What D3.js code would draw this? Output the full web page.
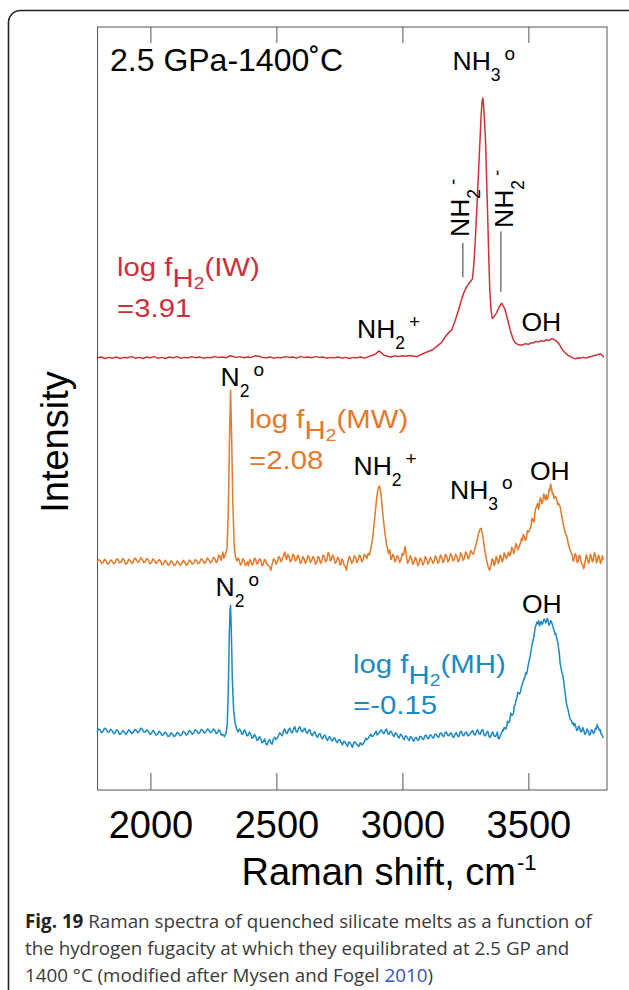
<!DOCTYPE html>
<html>
<head>
<meta charset="utf-8">
<script src="https://cdn.jsdelivr.net/npm/d3@7/dist/d3.min.js"></script>
<style>
    body { margin: 0; background: #fff; }
    svg text { font-family: "Liberation Sans", Arial, Helvetica, sans-serif; }
    svg text.caption { font-family: "Open Sans", "Noto Sans", sans-serif; }
</style>
</head>
<body>
<svg id="chart" width="629" height="990"></svg>
<script>
// x axis (Raman shift, cm-1)
var xTicks = [2000, 2500, 3000, 3500];
var xDomain = [1790, 3812];
var yDomain = [0, 100];

// one spectrum per buffer, stacked with a vertical offset
var buffers = ["IW", "MW", "MH"];
var logFH2 = ["=3.91", "=2.08", "=-0.15"];
var offsets = [56.6, 29.8, 7.6];

// [shift, intensity above own baseline]
var spectrumIW = [
    [1790, 0.05], [1805, 0.15], [1820, -0.05], [1835, 0.1], [1850, 0.0], [1865, 0.15], [1880, -0.05],
    [1895, 0.1], [1910, 0.05], [1925, 0.2], [1940, 0.0], [1955, 0.1], [1970, -0.05], [1985, 0.15],
    [2000, 0.05], [2015, 0.2], [2030, 0.0], [2045, 0.1], [2060, -0.05], [2075, 0.15], [2090, 0.05],
    [2105, 0.2], [2120, 0.0], [2135, 0.1], [2150, 0.05], [2165, 0.2], [2180, 0.05], [2195, 0.15],
    [2210, 0.0], [2225, 0.1], [2240, 0.05], [2255, 0.2], [2270, 0.1], [2285, 0.15], [2300, 0.05],
    [2315, 0.3], [2325, 0.25], [2340, 0.1], [2355, 0.2], [2370, 0.05], [2385, 0.15], [2400, 0.1],
    [2415, 0.3], [2430, 0.25], [2445, 0.1], [2460, 0.05], [2475, 0.15], [2490, 0.0], [2505, 0.1],
    [2520, 0.05], [2535, 0.2], [2550, 0.1], [2565, 0.15], [2580, 0.0], [2595, 0.2], [2610, 0.1],
    [2625, 0.15], [2640, 0.05], [2655, 0.2], [2670, 0.1], [2685, 0.15], [2700, 0.0], [2715, 0.1],
    [2730, 0.05], [2745, 0.15], [2760, 0.0], [2775, 0.1], [2790, -0.05], [2805, 0.1], [2820, 0.05],
    [2835, 0.15], [2850, 0.0], [2865, 0.2], [2880, 0.35], [2895, 0.6], [2907, 0.95], [2917, 0.7],
    [2927, 0.4], [2940, 0.25], [2955, 0.15], [2970, 0.3], [2985, 0.2], [3000, 0.3], [3015, 0.25],
    [3030, 0.35], [3045, 0.25], [3059, 0.2], [3075, 0.5], [3090, 0.7], [3105, 0.9], [3120, 1.1],
    [3135, 1.5], [3154, 2.0], [3170, 2.8], [3185, 3.4], [3196, 3.7], [3210, 5.0], [3223, 6.3],
    [3233, 7.5], [3243, 8.5], [3254, 9.3], [3264, 9.8], [3272, 10.1], [3278, 10.4], [3284, 12.5],
    [3291, 16.5], [3298, 21.5], [3305, 26.5], [3312, 31.5], [3316, 33.6], [3319, 34.1], [3322, 33.2],
    [3326, 31.0], [3330, 28.5], [3335, 22.5], [3339, 18.0], [3343, 13.0], [3347, 8.8], [3352, 6.2],
    [3357, 5.2], [3365, 5.5], [3373, 5.9], [3384, 6.7], [3394, 7.2], [3401, 6.8], [3408, 6.3],
    [3418, 5.0], [3428, 3.7], [3438, 2.6], [3448, 2.0], [3458, 1.8], [3469, 1.7], [3480, 1.8],
    [3490, 1.9], [3500, 1.8], [3510, 2.0], [3520, 2.0], [3530, 2.2], [3540, 2.1], [3550, 2.3],
    [3560, 2.2], [3570, 2.4], [3580, 2.3], [3590, 2.5], [3599, 2.5], [3609, 2.3], [3619, 2.0],
    [3628, 1.5], [3637, 1.0], [3646, 0.7], [3656, 0.4], [3667, 0.2], [3677, 0.0], [3687, -0.1],
    [3697, 0.05], [3707, 0.0], [3717, 0.1], [3729, 0.0], [3740, 0.15], [3750, 0.2], [3760, 0.35],
    [3770, 0.4], [3778, 0.5], [3785, 0.55], [3792, 0.4], [3800, 0.1]
];

var spectrumMW = [
    [1788, 0.1], [1794, 0.4], [1800, 0.3], [1806, -0.1], [1812, 0.0], [1818, 0.45], [1824, 0.25],
    [1830, -0.2], [1836, -0.1], [1842, 0.35], [1848, 0.2], [1854, -0.15], [1860, 0.0], [1866, 0.5],
    [1872, 0.35], [1878, -0.05], [1884, 0.1], [1890, 0.55], [1896, 0.3], [1902, -0.2], [1908, -0.05],
    [1914, 0.45], [1920, 0.25], [1926, -0.1], [1932, 0.1], [1938, 0.6], [1944, 0.4], [1950, 0.05],
    [1956, 0.2], [1962, 0.65], [1968, 0.45], [1974, 0.0], [1980, 0.15], [1986, 0.55], [1992, 0.35],
    [1998, -0.15], [2004, 0.0], [2010, 0.5], [2016, 0.3], [2022, -0.1], [2028, 0.05], [2034, 0.4],
    [2040, 0.2], [2046, -0.3], [2052, -0.15], [2058, 0.3], [2064, 0.1], [2070, -0.35], [2076, -0.2],
    [2082, 0.25], [2088, 0.05], [2094, -0.4], [2100, -0.25], [2106, 0.2], [2112, 0.0], [2118, -0.35],
    [2124, -0.15], [2130, 0.3], [2136, 0.1], [2142, -0.35], [2148, -0.2], [2154, 0.35], [2160, 0.15],
    [2166, -0.2], [2172, -0.05], [2178, 0.4], [2184, 0.2], [2190, -0.15], [2196, 0.05], [2202, 0.5],
    [2208, 0.3], [2214, -0.1], [2220, 0.1], [2226, 0.6], [2232, 0.35], [2238, -0.05], [2244, 0.15],
    [2250, 0.7], [2256, 0.5], [2261, 0.0], [2266, 0.2], [2271, 1.0], [2276, 0.8], [2281, 0.3],
    [2287, 1.4], [2292, 0.6], [2296, 0.9], [2304, 1.8], [2309, 6.5], [2314, 16.0], [2318, 22.6],
    [2322, 17.0], [2327, 8.0], [2332, 2.5], [2337, 0.8], [2343, 0.2], [2348, 0.6], [2352, 0.4],
    [2357, -0.3], [2362, -0.1], [2367, 0.5], [2372, 0.3], [2377, -0.4], [2381, -0.2], [2385, 0.1],
    [2389, -0.4], [2394, 0.4], [2398, 0.2], [2403, -0.3], [2408, -0.1], [2413, 0.6], [2418, 0.4],
    [2423, -0.2], [2428, 0.0], [2433, 0.5], [2438, 0.3], [2443, -0.4], [2448, -0.2], [2453, 0.4],
    [2458, 0.2], [2462, -0.2], [2466, -0.3], [2472, -0.5], [2478, -1.0], [2484, -0.1], [2489, 0.5],
    [2494, 0.3], [2499, -0.2], [2504, 0.1], [2509, 0.8], [2514, 0.6], [2518, 0.1], [2522, 0.3],
    [2528, 0.9], [2533, 1.4], [2537, 0.7], [2540, 0.4], [2545, 1.1], [2550, 0.8], [2555, 0.1],
    [2560, 0.3], [2565, 1.1], [2570, 0.9], [2575, 0.2], [2580, 0.4], [2585, 1.0], [2590, 0.7],
    [2595, -0.1], [2600, 0.1], [2605, 0.8], [2610, 0.5], [2615, -0.1], [2620, 0.2], [2625, 0.9],
    [2630, 0.7], [2635, 0.0], [2640, 0.3], [2645, 0.8], [2650, 0.5], [2655, -0.2], [2660, 0.0],
    [2665, 0.8], [2670, 0.6], [2675, -0.1], [2680, 0.2], [2685, 1.0], [2690, 0.8], [2695, 0.1],
    [2700, 0.3], [2705, 1.3], [2710, 1.0], [2714, 0.2], [2718, 0.4], [2723, 1.0], [2728, 0.7],
    [2733, -0.1], [2738, 0.1], [2743, 0.7], [2748, 0.5], [2752, -0.3], [2756, -0.2], [2760, 0.5],
    [2764, 0.3], [2768, -0.3], [2772, -0.4], [2778, -1.0], [2784, 0.2], [2789, 0.8], [2794, 0.5],
    [2799, -0.1], [2804, 0.2], [2809, 0.9], [2814, 0.7], [2819, 0.0], [2824, 0.3], [2829, 1.0],
    [2834, 0.8], [2839, 0.1], [2844, 0.4], [2849, 1.1], [2854, 0.9], [2859, 0.5], [2864, 1.2],
    [2869, 1.0], [2874, 1.7], [2882, 3.2], [2890, 5.8], [2898, 8.5], [2904, 9.8], [2909, 10.05],
    [2915, 9.0], [2922, 6.5], [2930, 4.0], [2938, 2.2], [2945, 1.2], [2950, 1.7], [2954, 0.4],
    [2958, 0.6], [2962, 1.1], [2966, 0.9], [2970, 0.1], [2974, 0.3], [2979, 0.9], [2984, 0.7],
    [2989, 0.0], [2994, 0.4], [2999, 1.2], [3004, 1.0], [3011, 2.1], [3017, 0.6], [3021, -0.1],
    [3026, 0.3], [3031, 0.9], [3036, 0.6], [3041, -0.2], [3046, 0.0], [3051, 0.7], [3056, 0.4],
    [3061, -0.4], [3066, -0.1], [3071, 0.6], [3076, 0.3], [3081, -0.3], [3086, 0.0], [3091, 0.8],
    [3096, 0.5], [3101, -0.2], [3106, 0.1], [3111, 0.7], [3116, 0.4], [3121, -0.1], [3126, 0.2],
    [3131, 0.9], [3136, 0.6], [3141, -0.1], [3146, 0.2], [3151, 1.0], [3156, 0.7], [3161, 0.0],
    [3166, 0.3], [3171, 1.1], [3176, 0.8], [3181, 0.1], [3186, 0.4], [3191, 1.2], [3196, 0.9],
    [3201, 0.2], [3206, 0.5], [3211, 1.1], [3216, 0.8], [3221, 0.1], [3226, 0.4], [3231, 1.3],
    [3236, 1.0], [3241, 0.3], [3246, 0.6], [3251, 1.4], [3256, 1.1], [3261, 0.5], [3266, 0.8],
    [3271, 1.6], [3276, 1.3], [3281, 1.1], [3286, 1.6], [3294, 2.6], [3302, 3.8], [3308, 4.4],
    [3312, 4.5], [3317, 3.9], [3323, 2.6], [3329, 1.2], [3335, 0.2], [3341, -0.6], [3346, -1.0],
    [3352, -0.3], [3356, 0.5], [3360, 0.3], [3364, -0.4], [3368, -0.1], [3372, 0.8], [3376, 0.5],
    [3380, -0.1], [3384, 0.2], [3388, 1.0], [3392, 0.7], [3396, 0.1], [3400, 0.4], [3404, 1.3],
    [3408, 1.0], [3412, 0.5], [3416, 0.8], [3422, 1.4], [3426, 0.9], [3430, 1.1], [3434, 2.0],
    [3438, 1.8], [3442, 1.2], [3446, 1.6], [3450, 2.5], [3454, 2.2], [3458, 1.7], [3462, 2.0],
    [3469, 2.6], [3473, 3.2], [3476, 2.9], [3480, 3.7], [3484, 3.4], [3488, 2.9], [3492, 3.2],
    [3496, 4.2], [3500, 4.0], [3505, 4.3], [3510, 4.7], [3514, 5.8], [3518, 5.6], [3522, 5.3],
    [3525, 6.2], [3528, 7.0], [3531, 7.2], [3537, 7.8], [3540, 7.0], [3543, 7.4], [3547, 8.5],
    [3550, 8.3], [3554, 7.7], [3557, 8.0], [3561, 9.0], [3564, 8.6], [3568, 8.2], [3571, 8.9],
    [3575, 8.3], [3578, 8.6], [3582, 9.6], [3585, 9.4], [3588, 10.3], [3592, 9.75], [3595, 9.0],
    [3598, 9.1], [3602, 8.4], [3605, 8.7], [3609, 8.6], [3612, 8.4], [3616, 7.6], [3619, 7.8],
    [3626, 7.3], [3633, 6.0], [3640, 4.8], [3647, 3.8], [3653, 3.4], [3660, 2.2], [3667, 1.5],
    [3674, 1.0], [3678, 0.2], [3682, 0.5], [3686, 1.2], [3690, 0.9], [3694, 0.0], [3698, 0.2],
    [3702, 1.0], [3706, 0.7], [3710, 0.0], [3714, -0.2], [3720, -0.8], [3726, 0.3], [3730, 1.0],
    [3734, 0.6], [3738, -0.1], [3742, 0.2], [3746, 1.1], [3750, 0.8], [3754, 0.1], [3758, 0.4],
    [3762, 1.3], [3766, 1.0], [3770, 0.0], [3774, 0.3], [3778, 1.0], [3782, 0.7], [3786, -0.1],
    [3790, 0.2], [3794, 0.9], [3797, 0.4]
];

var spectrumMH = [
    [1788, 0.0], [1794, 0.4], [1800, 0.3], [1806, -0.1], [1812, 0.1], [1818, 0.5], [1824, 0.4],
    [1830, 0.0], [1836, 0.0], [1842, 0.35], [1848, 0.2], [1854, -0.2], [1860, -0.1], [1866, 0.3],
    [1872, 0.1], [1878, -0.3], [1884, -0.2], [1890, 0.2], [1896, 0.0], [1902, -0.3], [1908, -0.1],
    [1914, 0.3], [1920, 0.1], [1926, -0.2], [1932, -0.05], [1938, 0.35], [1944, 0.2], [1950, -0.1],
    [1956, 0.1], [1962, 0.5], [1968, 0.35], [1974, 0.0], [1980, 0.0], [1986, 0.3], [1992, 0.1],
    [1998, -0.3], [2004, -0.2], [2010, 0.2], [2016, 0.0], [2022, -0.4], [2028, -0.3], [2034, 0.1],
    [2040, -0.1], [2046, -0.45], [2052, -0.35], [2058, 0.0], [2064, -0.2], [2070, -0.6], [2076, -0.5],
    [2082, -0.1], [2088, -0.3], [2094, -0.6], [2100, -0.45], [2106, -0.05], [2112, -0.2], [2118, -0.5],
    [2124, -0.35], [2130, 0.1], [2136, -0.05], [2142, -0.4], [2148, -0.25], [2154, 0.2], [2160, 0.05],
    [2166, -0.3], [2172, -0.1], [2178, 0.3], [2184, 0.15], [2190, -0.2], [2196, -0.05], [2202, 0.35],
    [2208, 0.2], [2214, -0.15], [2220, 0.0], [2226, 0.4], [2232, 0.25], [2238, -0.1], [2244, 0.05],
    [2250, 0.4], [2256, 0.2], [2261, -0.2], [2266, -0.1], [2271, 0.3], [2276, 0.1], [2281, -0.4],
    [2286, -0.3], [2294, -0.6], [2300, -0.2], [2305, 1.0], [2309, 5.5], [2313, 12.5], [2316, 16.0],
    [2318, 16.6], [2321, 13.5], [2325, 7.0], [2330, 3.0], [2336, 1.2], [2342, 0.4], [2348, 0.0],
    [2353, 0.4], [2358, 0.2], [2363, -0.3], [2368, -0.2], [2373, 0.3], [2378, 0.0], [2383, -0.5],
    [2388, -0.4], [2393, 0.0], [2398, -0.3], [2403, -0.8], [2408, -0.7], [2413, -0.3], [2418, -0.6],
    [2423, -1.1], [2428, -1.0], [2433, -0.6], [2438, -0.9], [2443, -1.4], [2448, -1.3], [2453, -0.9],
    [2458, -1.5], [2463, -1.7], [2468, -1.2], [2473, -1.0], [2478, -1.4], [2483, -1.6], [2488, -0.9],
    [2493, -0.7], [2498, -1.0], [2503, -0.8], [2508, -0.5], [2513, -0.1], [2518, -0.3], [2523, -0.5],
    [2528, 0.1], [2533, 0.4], [2538, -0.1], [2543, -0.2], [2548, 0.3], [2553, 0.5], [2558, 0.0],
    [2563, -0.1], [2568, 0.4], [2573, 0.7], [2578, 0.1], [2583, 0.0], [2588, 0.5], [2593, 0.7],
    [2598, 0.2], [2603, 0.0], [2608, 0.3], [2613, 0.5], [2618, 0.0], [2623, -0.2], [2628, 0.2],
    [2633, 0.3], [2638, -0.3], [2643, -0.5], [2648, -0.1], [2653, 0.0], [2658, -0.5], [2663, -0.7],
    [2668, -0.3], [2673, -0.2], [2678, -0.7], [2683, -0.9], [2688, -0.5], [2693, -0.4], [2698, -0.9],
    [2703, -1.1], [2708, -0.7], [2712, -0.6], [2717, -1.0], [2722, -1.2], [2727, -0.8], [2732, -0.8],
    [2737, -1.2], [2742, -1.4], [2747, -1.0], [2752, -1.0], [2757, -1.4], [2762, -1.7], [2767, -1.2],
    [2772, -1.3], [2777, -1.6], [2782, -1.9], [2787, -1.3], [2792, -1.4], [2797, -1.7], [2802, -2.0],
    [2807, -1.4], [2812, -1.3], [2817, -1.6], [2822, -1.7], [2827, -1.9], [2833, -1.4], [2840, -1.7],
    [2845, -1.5], [2850, -1.2], [2855, -0.8], [2860, -1.0], [2865, -0.8], [2870, -0.5], [2875, -0.3],
    [2880, -0.6], [2885, -0.5], [2890, -0.2], [2895, 0.1], [2900, -0.4], [2906, -0.2], [2912, 0.1],
    [2917, 0.3], [2922, -0.1], [2927, -0.2], [2932, 0.2], [2937, 0.4], [2942, -0.2], [2947, -0.3],
    [2952, 0.1], [2957, 0.0], [2962, -0.4], [2967, -0.6], [2972, -0.1], [2977, -0.2], [2982, -0.6],
    [2987, -0.8], [2992, -0.3], [2997, -0.4], [3002, -0.8], [3007, -1.0], [3012, -0.5], [3017, -0.6],
    [3022, -0.9], [3027, -1.1], [3032, -0.6], [3037, -0.7], [3042, -1.1], [3046, -1.2], [3050, -0.8],
    [3055, -0.7], [3059, -1.0], [3064, -1.1], [3069, -0.6], [3074, -0.6], [3079, -0.9], [3084, -1.0],
    [3089, -0.5], [3094, -0.4], [3099, -0.8], [3104, -0.9], [3109, -0.4], [3114, -0.4], [3119, -0.7],
    [3124, -0.8], [3129, -0.3], [3134, -0.3], [3139, -0.6], [3144, -0.7], [3149, -0.2], [3154, -0.1],
    [3159, -0.5], [3164, -0.6], [3169, -0.1], [3174, 0.0], [3179, -0.4], [3184, -0.5], [3189, -0.2],
    [3194, -0.1], [3199, -0.6], [3204, -0.7], [3209, -0.3], [3214, -0.1], [3219, -0.5], [3224, -0.6],
    [3229, 0.0], [3234, 0.1], [3239, -0.4], [3244, -0.5], [3249, -0.1], [3254, 0.0], [3259, -0.5],
    [3264, -0.4], [3269, -0.2], [3274, 0.0], [3279, 0.2], [3284, -0.3], [3289, -0.4], [3294, 0.1],
    [3299, 0.3], [3304, -0.2], [3309, -0.3], [3314, 0.2], [3319, 0.3], [3324, -0.4], [3329, -0.5],
    [3334, -0.1], [3339, 0.1], [3344, -0.6], [3349, -0.7], [3354, -0.2], [3359, 0.0], [3364, -0.5],
    [3369, -0.6], [3374, -0.3], [3377, 0.0], [3380, -0.8], [3384, -0.9], [3387, -0.6], [3391, -0.3],
    [3394, -0.1], [3398, 0.3], [3401, 0.2], [3404, 0.6], [3408, 0.5], [3411, 0.4], [3414, 0.7],
    [3417, 1.4], [3420, 1.2], [3423, 1.3], [3426, 1.5], [3430, 2.5], [3433, 2.2], [3437, 2.2],
    [3441, 2.5], [3444, 3.5], [3448, 3.6], [3451, 4.2], [3455, 4.6], [3458, 5.2], [3462, 5.1],
    [3465, 5.0], [3469, 5.3], [3472, 5.9], [3476, 6.2], [3479, 6.6], [3483, 7.0], [3486, 7.2],
    [3490, 7.8], [3493, 7.6], [3496, 8.1], [3500, 8.9], [3503, 9.3], [3507, 9.9], [3510, 10.6],
    [3514, 11.3], [3517, 11.8], [3521, 12.4], [3524, 13.0], [3527, 13.7], [3530, 14.0], [3534, 14.4],
    [3537, 14.2], [3541, 14.6], [3544, 13.9], [3548, 14.3], [3551, 14.5], [3555, 14.1], [3558, 14.3],
    [3562, 14.8], [3565, 14.7], [3569, 14.3], [3572, 14.5], [3575, 14.9], [3578, 14.6], [3582, 14.0],
    [3585, 14.2], [3589, 14.6], [3592, 14.4], [3596, 14.0], [3599, 13.6], [3603, 13.2], [3606, 12.8],
    [3609, 12.9], [3612, 12.4], [3616, 11.8], [3619, 11.2], [3623, 10.2], [3626, 9.0], [3630, 8.3],
    [3633, 7.8], [3637, 7.4], [3640, 6.7], [3644, 5.6], [3647, 4.8], [3650, 4.0], [3653, 3.4],
    [3657, 3.0], [3660, 2.5], [3664, 1.9], [3667, 1.6], [3671, 1.5], [3674, 1.1], [3678, 1.2],
    [3681, 0.8], [3685, 1.1], [3688, 0.7], [3692, 0.2], [3696, 0.3], [3700, 0.8], [3704, 0.5],
    [3708, 0.0], [3712, 0.1], [3716, 0.6], [3720, 0.2], [3724, -0.3], [3729, -0.1], [3733, 0.4],
    [3738, 0.1], [3742, -0.4], [3746, -0.3], [3750, 0.3], [3754, 0.2], [3758, -0.2], [3762, 0.0],
    [3766, 0.5], [3770, 0.4], [3773, 1.0], [3776, 0.6], [3779, 0.5], [3782, 0.2], [3785, 0.3],
    [3788, -0.2], [3792, -0.3], [3797, -0.8]
];

var spectra = [spectrumIW, spectrumMW, spectrumMH];
var colors = ["#cf3037", "#e6782a", "#1b89c5"];

// NH2- leader lines: [shift, from, to]
var leaders = [[3240, 67.2, 71.7], [3391, 65.3, 73.2]];

var plot = { left: 97.5, right: 607, top: 27, bottom: 790 };

var svg = d3.select("#chart");

// rounded outer panel (runs off the right and bottom edges)
svg.append("rect")
    .attr("x", 8.5).attr("y", 10.5)
    .attr("width", 660).attr("height", 1010)
    .attr("rx", 12)
    .attr("fill", "none")
    .attr("stroke", "#222")
    .attr("stroke-width", 1.6);

var x = d3.scaleLinear().domain(xDomain).range([plot.left, plot.right]);
var y = d3.scaleLinear().domain(yDomain).range([plot.bottom, plot.top]);

// frame
svg.append("rect")
    .attr("x", plot.left).attr("y", plot.top)
    .attr("width", plot.right - plot.left).attr("height", plot.bottom - plot.top)
    .attr("fill", "none")
    .attr("stroke", "#555")
    .attr("stroke-width", 1);

// bottom axis, ticks pointing in
var xAxis = svg.append("g")
    .attr("transform", "translate(0," + plot.bottom + ")")
    .call(d3.axisBottom(x).tickValues(xTicks).tickFormat(d3.format("d"))
        .tickSizeInner(-17).tickSizeOuter(0).tickPadding(21));
xAxis.select(".domain").remove();
xAxis.selectAll(".tick line").attr("stroke", "#555");
xAxis.selectAll(".tick text")
    .attr("font-size", 38)
    .attr("font-family", "Liberation Sans, Arial, sans-serif")
    .attr("fill", "#000");

// top axis, ticks only
var xTop = svg.append("g")
    .attr("transform", "translate(0," + plot.top + ")")
    .call(d3.axisTop(x).tickValues(xTicks).tickSizeInner(-16).tickSizeOuter(0).tickFormat(""));
xTop.select(".domain").remove();
xTop.selectAll(".tick line").attr("stroke", "#555");

// spectra
var line = d3.line()
    .x(function (d) { return x(d[0]); });

spectra.forEach(function (s, i) {
    svg.append("path")
        .datum(s)
        .attr("fill", "none")
        .attr("stroke", colors[i])
        .attr("stroke-width", 1.5)
        .attr("stroke-linejoin", "round")
        .attr("d", line.y(function (d) { return y(d[1] + offsets[i]); }));
});

// leader lines below the rotated NH2- labels
svg.selectAll(".leader").data(leaders).enter().append("line")
    .attr("class", "leader")
    .attr("x1", function (d) { return x(d[0]); })
    .attr("x2", function (d) { return x(d[0]); })
    .attr("y1", function (d) { return y(d[1]); })
    .attr("y2", function (d) { return y(d[2]); })
    .attr("stroke", "#333")
    .attr("stroke-width", 1);

// text helper: parts are [text, fontSize, dx, dy]
function label(px, py, parts, fill, transform) {
    var t = svg.append("text")
        .attr("x", 0)
        .attr("y", 0)
        .attr("fill", fill || "#000")
        .attr("transform", "translate(" + px + "," + py + ")" + (transform ? " " + transform : ""));
    parts.forEach(function (p) {
        t.append("tspan")
            .attr("font-size", p[1])
            .attr("dx", p[2] || 0)
            .attr("dy", p[3] || 0)
            .text(p[0]);
    });
    return t;
}

function species(base, sub, sup, px, py, transform) {
    return label(px, py, [[base, 26.5], [sub, 17.5, 0, 11], [sup, 19, 4, -21]], "#000", transform);
}

// header
label(110, 71, [["2.5 GPa-1400\u02DAC", 32]]);

// peak assignments
species("NH", "3", "o", 452.5, 70);
species("NH", "2", "-", 469, 237, "rotate(-90)");
species("NH", "2", "-", 513, 228, "rotate(-90)");
species("NH", "2", "+", 357, 338);
label(521.5, 331, [["OH", 26.5]]);

species("N", "2", "o", 220.5, 386);
species("NH", "2", "+", 353.5, 475);
species("NH", "3", "o", 450, 499);
label(530, 480, [["OH", 26.5]]);

species("N", "2", "o", 215.5, 596);
label(522, 613, [["OH", 26.5]]);

// buffer labels, log fH2 (drawn a little wide, like the original)
var bufferPos = [[117, 276], [249, 428], [353, 673]];
buffers.forEach(function (b, i) {
    var p = bufferPos[i];
    label(p[0], p[1], [["log f", 26], ["H", 26, 0, 11], ["2", 17, 0, 2], ["(" + b + ")", 26, 0, -13]],
        colors[i], "scale(1.13,1)");
    label(p[0], p[1] + 41, [[logFH2[i], 26]], colors[i], "scale(1.13,1)");
});

// axis titles
svg.append("text")
    .attr("transform", "translate(68,442) rotate(-90)")
    .attr("text-anchor", "middle")
    .attr("font-size", 38)
    .text("Intensity");

label(241.5, 885, [["Raman shift, cm", 38], ["-1", 22, 1, -15]]);

// figure caption
var caption = [
    [["Fig. 19", "bold", "#222"], [" Raman spectra of quenched silicate melts as a function of", "normal", "#3a3a3a"]],
    [["the hydrogen fugacity at which they equilibrated at 2.5 GP and", "normal", "#3a3a3a"]],
    [["1400 \u00B0C (modified after Mysen and Fogel ", "normal", "#3a3a3a"], ["2010", "normal", "#3450c8"], [")", "normal", "#3a3a3a"]]
];
caption.forEach(function (ln, i) {
    var t = svg.append("text")
        .attr("class", "caption")
        .attr("x", 25)
        .attr("y", 928 + i * 27)
        .attr("font-size", 18.8);
    ln.forEach(function (p) {
        t.append("tspan").attr("font-weight", p[1]).attr("fill", p[2]).text(p[0]);
    });
});
</script>
</body>
</html>
